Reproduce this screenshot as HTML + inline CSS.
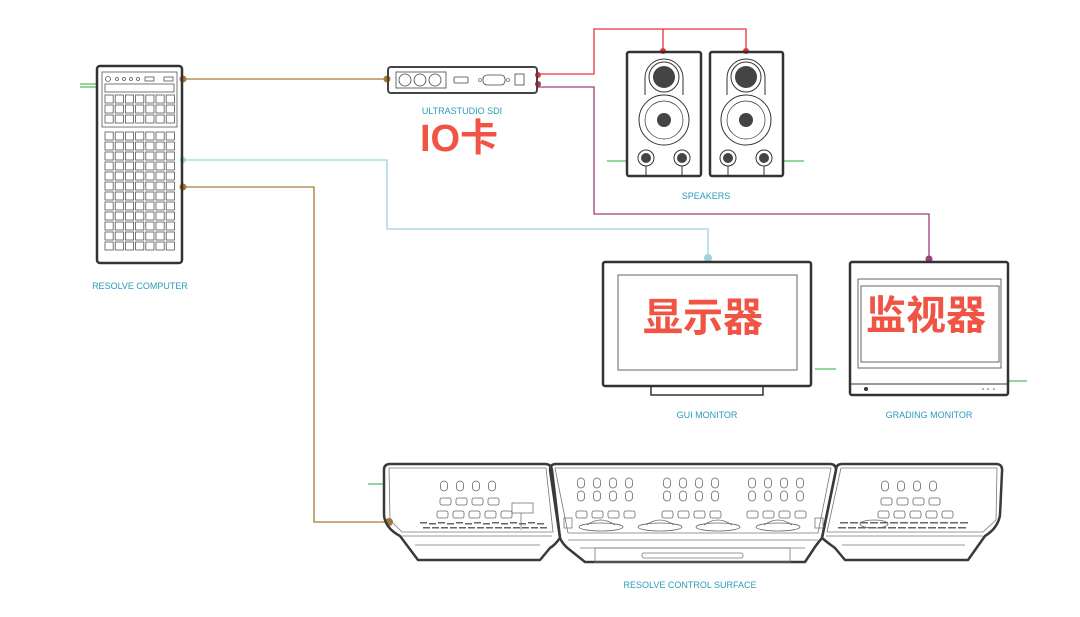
<!DOCTYPE html>
<html><head><meta charset="utf-8"><style>
html,body{margin:0;padding:0;background:#fff;width:1080px;height:617px;overflow:hidden}
svg{display:block}
.l{font-family:"Liberation Sans",sans-serif;font-size:9px;fill:#2b9bb8;text-anchor:middle}
.cn{font-family:"Liberation Sans","Noto Sans CJK SC",sans-serif;font-weight:bold;fill:#f05445;text-anchor:middle}
</style></head><body>
<svg id="s" width="1080" height="617" viewBox="0 0 1080 617" xmlns="http://www.w3.org/2000/svg">
<g fill="none" stroke-width="1.3">
<!-- green stubs -->
<path d="M80 84H97M80 87H97M607 161H627M783 161H804M815 369H836M1008 381H1027M368 484H385" stroke="#4fbf5a"/>
<!-- brown -->
<path d="M183 79H387M183 187H314V522H388" stroke="#a8773a"/>
<!-- cyan -->
<path d="M183 160H387V229H708V258" stroke="#9fd4df"/>
<!-- red -->
<path d="M537 74H594V29H746V51M663 29V51" stroke="#e8343a"/>
<!-- purple -->
<path d="M537 87H594V214H929V259" stroke="#9c3f7a"/>
</g>
<g>
<circle cx="183" cy="79" r="3.5" fill="#a8773a"/><circle cx="387" cy="79" r="3.5" fill="#a8773a"/>
<circle cx="183" cy="187" r="3.5" fill="#a8773a"/><circle cx="389" cy="522" r="4" fill="#a8773a"/>
<circle cx="183" cy="160" r="3" fill="#9fd4df"/><circle cx="708" cy="258" r="4" fill="#9fd4df"/>
<circle cx="538" cy="75" r="3" fill="#e8343a"/><circle cx="538" cy="84" r="3" fill="#b8305a"/>
<circle cx="663" cy="51" r="3" fill="#e8343a"/><circle cx="746" cy="51" r="3" fill="#e8343a"/>
<circle cx="929" cy="259" r="3.5" fill="#9c3f7a"/>
</g>
<!-- computer -->
<g fill="none" stroke="#333" stroke-width="2.5">
<rect x="97" y="66" width="85" height="197" rx="3"/>
</g>
<g fill="none" stroke="#555" stroke-width="0.8" id="comp">
<rect x="102" y="72" width="75" height="55"/>
<rect x="105" y="75" width="69" height="8" stroke="none"/>
<circle cx="108" cy="79" r="2.5"/><circle cx="117" cy="79" r="1.5"/><circle cx="124" cy="79" r="1.5"/><circle cx="131" cy="79" r="1.5"/><circle cx="138" cy="79" r="1.5"/>
<rect x="145" y="77" width="9" height="4"/><rect x="164" y="77" width="9" height="4"/>
<rect x="105" y="84" width="69" height="8"/>
</g>
<!-- ultrastudio -->
<g fill="none" stroke="#444">
<rect x="388" y="67" width="149" height="26" rx="3" stroke-width="2"/>
<rect x="396" y="72" width="50" height="16" stroke-width="0.8"/>
<circle cx="405" cy="80" r="6" stroke-width="0.8"/><circle cx="420" cy="80" r="6" stroke-width="0.8"/><circle cx="435" cy="80" r="6" stroke-width="0.8"/>
<rect x="454" y="77" width="14" height="6" rx="1" stroke-width="0.8"/>
<rect x="483" y="75" width="22" height="10" rx="4" stroke-width="0.8"/>
<circle cx="480" cy="80" r="1.5" stroke-width="0.6"/><circle cx="508" cy="80" r="1.5" stroke-width="0.6"/>
<rect x="515" y="74" width="9" height="11" stroke-width="0.8"/>
</g>
<text class="l" x="462" y="114">ULTRASTUDIO SDI</text>
<text class="cn" x="459" y="151" font-size="38" style="font-family:'Liberation Sans','Noto Sans CJK SC',sans-serif">IO卡</text>
<text class="l" x="140" y="289">RESOLVE COMPUTER</text>
<!-- speakers -->
<g id="spk" fill="none" stroke="#333">
<rect x="627" y="52" width="74" height="124" rx="2" stroke-width="2.5"/>
<rect x="710" y="52" width="73" height="124" rx="2" stroke-width="2.5"/>
</g>
<text class="l" x="706" y="199">SPEAKERS</text>
<!-- gui monitor -->
<g fill="none" stroke="#333">
<rect x="603" y="262" width="208" height="124" rx="2" stroke-width="2.5"/>
<rect x="618" y="275" width="179" height="95" stroke="#666" stroke-width="1"/>
<rect x="651" y="386" width="112" height="9" stroke-width="1.5"/>
</g>
<text class="cn" x="703" y="331" font-size="40">显示器</text>
<text class="l" x="707" y="418">GUI MONITOR</text>
<!-- grading monitor -->
<g fill="none" stroke="#333">
<rect x="850" y="262" width="158" height="133" rx="2" stroke-width="2.5"/>
<rect x="858" y="279" width="143" height="89" stroke="#666" stroke-width="1"/>
<rect x="861" y="286" width="138" height="76" stroke="#666" stroke-width="1"/>
<path d="M851 384H1007" stroke-width="1"/>
</g>
<circle cx="866" cy="389" r="2" fill="#333"/>
<circle cx="983" cy="389" r="0.8" fill="#555"/><circle cx="988" cy="389" r="0.8" fill="#555"/><circle cx="994" cy="389" r="0.8" fill="#555"/>
<text class="cn" x="926" y="329" font-size="40">监视器</text>
<text class="l" x="929" y="418">GRADING MONITOR</text>
<!-- control surface -->
<g fill="none" stroke="#3a3a3a" stroke-width="2.5" stroke-linejoin="round">
<path d="M390 464H545Q551 464 552 470L560 538Q555 545 550 548L540 560H418L400 536Q385 528 384 515V470Q384 464 390 464Z"/>
<path d="M556 464H830Q836 464 836 470L822 538Q816 545 813 550L805 562H585L570 550Q563 545 560 538L550 470Q550 464 556 464Z"/>
<path d="M842 464H996Q1003 464 1002 472L1000 515Q998 528 985 536L968 560H845L835 548Q828 543 822 538L836 470Q836 464 842 464Z"/>
</g>
<g fill="none" stroke="#777" stroke-width="0.8">
<path d="M389 468H546L553 532H402L390 520Z"/>
<path d="M555 468H831L818 533H568Z"/>
<path d="M841 468H997L996 520L983 532H827Z"/>
<path d="M402 536H552M568 540H818M826 536H983"/>
<path d="M415 545H540M580 548H805M842 545H965"/>
<rect x="642" y="553" width="101" height="5" rx="2"/>
<rect x="595" y="548" width="195" height="14"/>
<rect x="512" y="503" width="21" height="10"/>
<path d="M521 513V530"/>
<rect x="564" y="518" width="8" height="10"/><rect x="815" y="518" width="8" height="10"/>
</g>
<g id="cs" fill="none" stroke="#666" stroke-width="0.8"></g>
<g id="grill" fill="#666"></g>
<text class="l" x="690" y="588">RESOLVE CONTROL SURFACE</text>
</svg>
<script>
var NS="http://www.w3.org/2000/svg";
function el(p,t,a){var e=document.createElementNS(NS,t);for(var k in a)e.setAttribute(k,a[k]);p.appendChild(e);return e;}
var comp=document.getElementById('comp');
for(var c=0;c<7;c++){
 for(var r=0;r<3;r++)el(comp,'rect',{x:105+c*10.2,y:95+r*10,width:8.2,height:8});
 for(var r=0;r<12;r++)el(comp,'rect',{x:105+c*10.2,y:132+r*10,width:8.2,height:8});
}
var spk=document.getElementById('spk');
[664,746].forEach(function(cx){
 el(spk,'path',{d:'M'+(cx-19)+' 95 V78 A19 19 0 0 1 '+(cx+19)+' 78 V95',"stroke-width":1});
 el(spk,'circle',{cx:cx,cy:77,r:15,"stroke-width":1});
 el(spk,'circle',{cx:cx,cy:77,r:11,fill:"#444",stroke:"none"});
 el(spk,'circle',{cx:cx,cy:120,r:25,"stroke-width":1});
 el(spk,'circle',{cx:cx,cy:120,r:19,"stroke-width":0.7});
 el(spk,'circle',{cx:cx,cy:120,r:7,fill:"#444",stroke:"none"});
 [cx-18,cx+18].forEach(function(x){
  el(spk,'circle',{cx:x,cy:158,r:8,"stroke-width":1});
  el(spk,'circle',{cx:x,cy:158,r:5,fill:"#444",stroke:"none"});
  el(spk,'path',{d:'M'+x+' 166V176',"stroke-width":1});
 });
});
var cs=document.getElementById('cs');
function knob(x,y){el(cs,'rect',{x:x-3.5,y:y-5,width:7,height:10,rx:3.5});}
function btn(x,y){el(cs,'rect',{x:x,y:y,width:11,height:7,rx:2});}
[444,460,476,492].forEach(function(x){knob(x,486);});
for(var i=0;i<4;i++)btn(440+i*16,498);
for(var i=0;i<5;i++)btn(437+i*16,511);
[885,901,917,933].forEach(function(x){knob(x,486);});
for(var i=0;i<4;i++)btn(881+i*16,498);
for(var i=0;i<5;i++)btn(878+i*16,511);
[581,667,752].forEach(function(g){
 for(var i=0;i<4;i++){knob(g+i*16,483);knob(g+i*16,496);btn(g-5+i*16,511);}
});
[601,660,718,778].forEach(function(x){
 el(cs,'ellipse',{cx:x,cy:527,rx:22,ry:4});
 el(cs,'path',{d:'M'+(x-14)+' 525Q'+x+' 515 '+(x+14)+' 525'});
});
var g=document.getElementById('grill');
for(var i=0;i<14;i++){el(g,'rect',{x:420+i*9,y:522+(i%2),width:7,height:1.5});el(g,'rect',{x:423+i*9,y:527,width:7,height:1.5});}
for(var i=0;i<13;i++){el(g,'rect',{x:840+i*10,y:522,width:8,height:1.5});el(g,'rect',{x:838+i*10,y:527,width:8,height:1.5});}
el(cs,'ellipse',{cx:874,cy:524,rx:14,ry:4});
</script>
</body></html>
